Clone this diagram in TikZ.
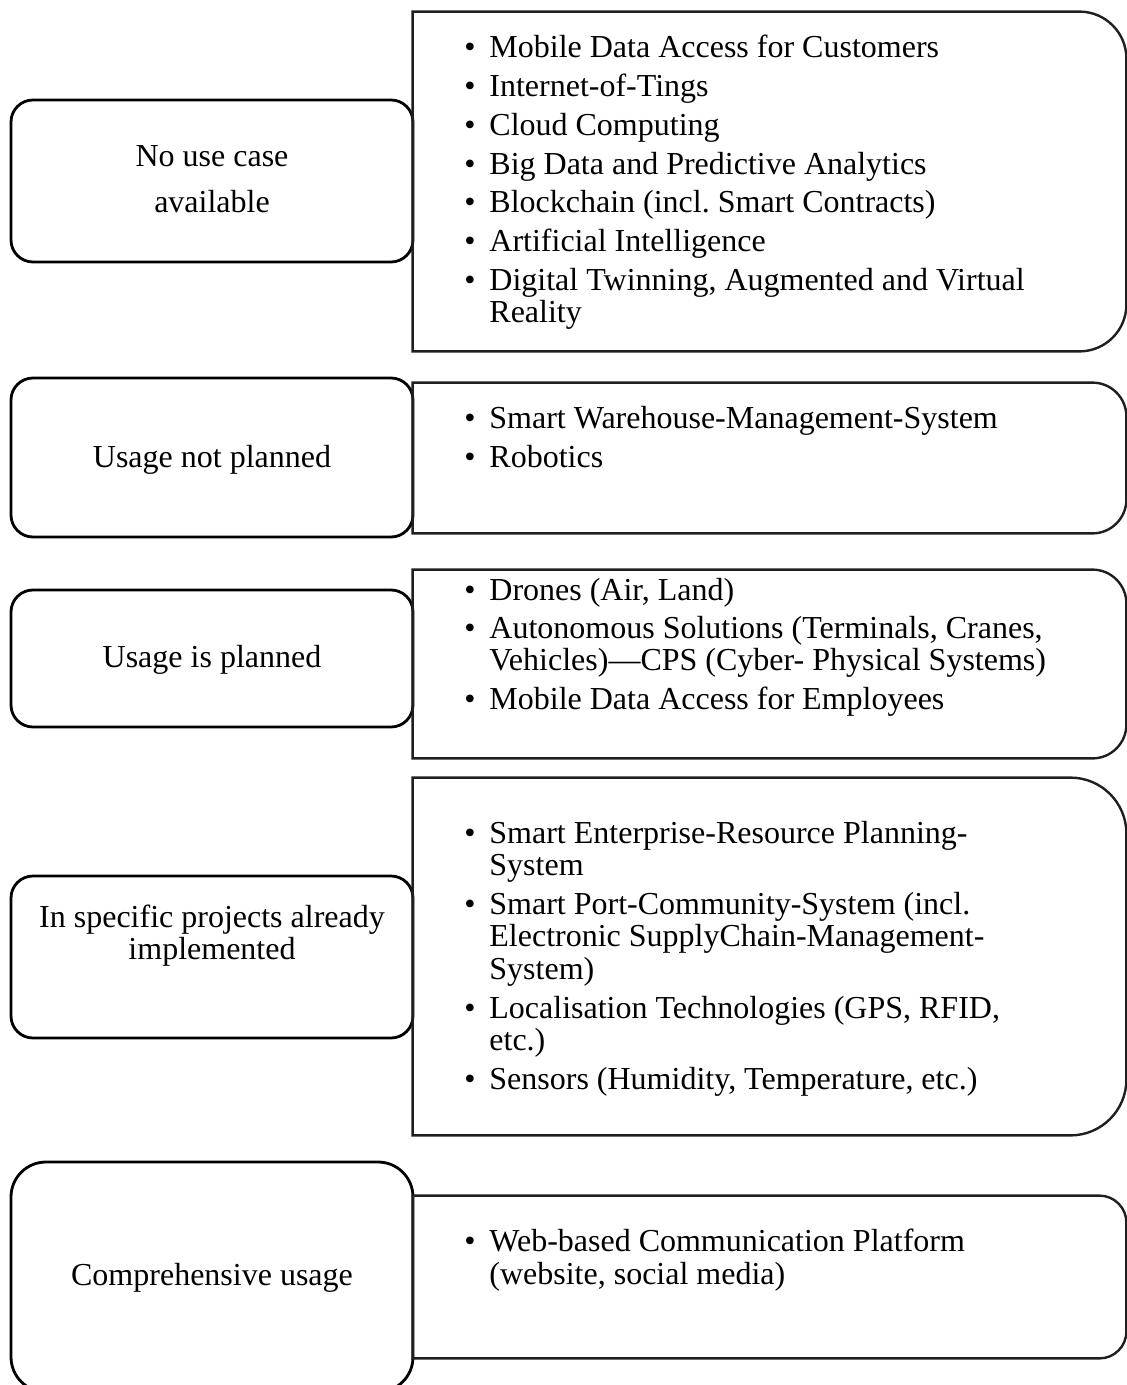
\documentclass[tikz,border=0pt]{standalone}
\usepackage{fontspec}
\setmainfont{Liberation Serif}
\frenchspacing
\newcommand\halfrounded[2]{% right-hand box: square left corners, rounded right corners
  \draw[rline] (#1.north west) -- ([xshift=-#2]#1.north east)
    arc[start angle=90,end angle=0,radius=#2] -- ([yshift=#2]#1.south east)
    arc[start angle=0,end angle=-90,radius=#2] -- (#1.south west) -- cycle;}
\begin{document}
\begin{tikzpicture}[x=0.5pt,y=-0.5pt,
  lbox/.style={draw=black, line width=1.4pt, rounded corners=11pt, minimum width=201pt, inner sep=0pt},
  rarea/.style={inner sep=0pt, minimum width=356.5pt},
  rline/.style={draw=black!88, line width=1.2pt},
  body/.style={inner sep=0pt, font=\fontsize{16pt}{16pt}\selectfont},
  txt/.style={body, anchor=base west},
  ctxt/.style={body, anchor=base},
  bul/.style={body, anchor=base}]
\useasboundingbox (0,0) rectangle (1127,1385);
\clip (0,0) rectangle (1127,1385);

% left-hand category boxes
\node[lbox, minimum height=81pt] (c1) at (212,181) {};
\node[lbox, minimum height=79.5pt] (c2) at (212,457.5) {};
\node[lbox, minimum height=68.5pt] (c3) at (212,658.5) {};
\node[lbox, minimum height=81pt] (c4) at (212,957) {};
\node[lbox, minimum height=115pt, rounded corners=17.5pt] (c5) at (212,1277) {};

\node[ctxt] (c1a) at (212,167) {No use case};
\node[ctxt] (c1b) at (212,213) {available};
\node[ctxt] (c2a) at (212,467) {Usage not planned};
\node[ctxt] (c3a) at (212,667) {Usage is planned};
\node[ctxt] (c4a) at (212,927) {In specific projects already};
\node[ctxt] (c4b) at (212,959) {implemented};
\node[ctxt] (c5a) at (212,1285) {Comprehensive usage};

% right-hand technology boxes
\node[rarea, minimum height=169.5pt] (r1) at (769.5,181.5) {};
\node[rarea, minimum height=75pt] (r2) at (769.5,458) {};
\node[rarea, minimum height=94pt] (r3) at (769.5,664) {};
\node[rarea, minimum height=178.5pt] (r4) at (769.5,956.5) {};
\node[rarea, minimum height=81pt] (r5) at (769.5,1277) {};
\halfrounded{r1}{23.5pt}
\halfrounded{r2}{17pt}
\halfrounded{r3}{17pt}
\halfrounded{r4}{28pt}
\halfrounded{r5}{13.5pt}

% items of box 1
\node[bul] (b1a) at (470,58) {•};     \node[txt] (t1a) at (489,58) {Mobile Data Access for Customers};
\node[bul] (b1b) at (470,96.7) {•};   \node[txt] (t1b) at (489,96.7) {Internet-of-Tings};
\node[bul] (b1c) at (470,135.4) {•};  \node[txt] (t1c) at (489,135.4) {Cloud Computing};
\node[bul] (b1d) at (470,174.1) {•};  \node[txt] (t1d) at (489,174.1) {Big Data and Predictive Analytics};
\node[bul] (b1e) at (470,212.8) {•};  \node[txt] (t1e) at (489,212.8) {Blockchain (incl. Smart Contracts)};
\node[bul] (b1f) at (470,251.5) {•};  \node[txt] (t1f) at (489,251.5) {Artificial Intelligence};
\node[bul] (b1g) at (470,290.2) {•};  \node[txt] (t1g) at (489,290.2) {Digital Twinning, Augmented and Virtual};
                                      \node[txt] (t1h) at (489,322.7) {Reality};

% items of box 2
\node[bul] (b2a) at (470,428) {•};    \node[txt] (t2a) at (489,428) {Smart Warehouse-Management-System};
\node[bul] (b2b) at (470,467) {•};    \node[txt] (t2b) at (489,467) {Robotics};

% items of box 3
\node[bul] (b3a) at (470,600) {•};    \node[txt] (t3a) at (489,600) {Drones (Air, Land)};
\node[bul] (b3b) at (470,638) {•};    \node[txt] (t3b) at (489,638) {Autonomous Solutions (Terminals, Cranes,};
                                      \node[txt] (t3c) at (489,670.5) {Vehicles)—CPS (Cyber- Physical Systems)};
\node[bul] (b3d) at (470,709) {•};    \node[txt] (t3d) at (489,709) {Mobile Data Access for Employees};

% items of box 4
\node[bul] (b4a) at (470,843) {•};    \node[txt] (t4a) at (489,843) {Smart Enterprise-Resource Planning-};
                                      \node[txt] (t4b) at (489,875.5) {System};
\node[bul] (b4c) at (470,914) {•};    \node[txt] (t4c) at (489,914) {Smart Port-Community-System (incl.};
                                      \node[txt] (t4d) at (489,946.5) {Electronic SupplyChain-Management-};
                                      \node[txt] (t4e) at (489,979) {System)};
\node[bul] (b4f) at (470,1018) {•};   \node[txt] (t4f) at (489,1018) {Localisation Technologies (GPS, RFID,};
                                      \node[txt] (t4g) at (489,1050.5) {etc.)};
\node[bul] (b4h) at (470,1089) {•};   \node[txt] (t4h) at (489,1089) {Sensors (Humidity, Temperature, etc.)};

% items of box 5
\node[bul] (b5a) at (470,1251) {•};   \node[txt] (t5a) at (489,1251) {Web-based Communication Platform};
                                      \node[txt] (t5b) at (489,1284) {(website, social media)};
\end{tikzpicture}
\end{document}
